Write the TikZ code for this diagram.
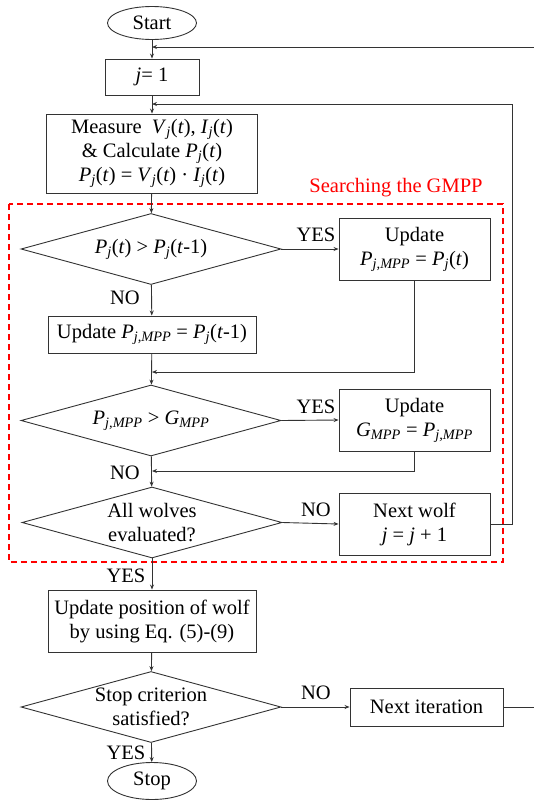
\documentclass[tikz,border=0pt]{standalone}
\usepackage{fontspec}
\setmainfont{Liberation Serif}
\usetikzlibrary{shapes.geometric,arrows.meta}
\newcommand{\lowi}[1]{\textsubscript{\textit{#1}}}
\newcommand{\tp}{(\textit{t})}
\newcommand{\Pj}{\textit{P}\lowi{j}}
\newcommand{\Vj}{\textit{V}\lowi{j}}
\newcommand{\Ij}{\textit{I}\lowi{j}}
\newcommand{\PjM}{\textit{P}\lowi{j,MPP}}
\newcommand{\GM}{\textit{G}\lowi{MPP}}

\tikzset{
  flow/.style={draw=black!80, line width=0.9pt, -{Stealth[length=5pt,width=4pt]}},
  box/.style={draw=black!80, line width=0.9pt, rectangle, align=center, inner sep=1pt},
  term/.style={draw=black!80, line width=0.9pt, ellipse, minimum width=89pt, minimum height=33pt, inner sep=0pt},
  decision/.style={draw=black!80, line width=0.9pt, diamond, aspect=3.7, inner sep=0pt, align=center,
                   minimum width=260pt, minimum height=71pt},
  lbl/.style={inner sep=0pt}
}

\begin{document}
\begin{tikzpicture}[x=1pt, y=-1pt, font=\fontsize{20.5}{24}\selectfont]
  \useasboundingbox (0,0) rectangle (534,801);

  % main column
  \node[term] (start) at (152,23) {Start};
  \node[box, minimum width=94pt, minimum height=36pt] (jone) at (152,77) {\textit{j}= 1};
  \node[box, minimum width=211pt, minimum height=79pt] (meas) at (152,153.5)
       {Measure \ \Vj\tp, \Ij\tp\\ \& Calculate \Pj\tp\\ \Pj\tp\ = \Vj\tp\ · \Ij\tp};
  \node[decision] (dpow) at (151,249) {\Pj\tp\ > \Pj(\textit{t}-1)};
  \node[box, minimum width=208pt, minimum height=37pt] (upold) at (152,334.5)
       {Update \PjM\ = \Pj(\textit{t}-1)};
  \node[decision] (dglob) at (151,420.5) {\PjM\ > \GM};
  \node[decision] (dall) at (152,522.5) {All wolves\\ evaluated?};
  \node[box, minimum width=208pt, minimum height=62pt] (upos) at (152,621)
       {Update position of wolf\\ by using Eq. (5)-(9)};
  \node[decision] (dstop) at (151,707) {Stop criterion\\ satisfied?};
  \node[term, minimum height=37pt] (stop) at (152,781) {Stop};

  % right column
  \node[box, minimum width=151pt, minimum height=62pt] (upnew) at (414.5,249)
       {Update\\ \PjM\ = \Pj\tp};
  \node[box, minimum width=151pt, minimum height=62pt] (upglob) at (414.5,420)
       {Update\\ \GM\ = \PjM};
  \node[box, minimum width=151pt, minimum height=62pt] (nwolf) at (414.5,524)
       {Next wolf\\ \textit{j} = \textit{j} + 1};
  \node[box, minimum width=153pt, minimum height=38pt] (nit) at (426.5,707) {Next iteration};

  % joints
  \coordinate (jtop) at (152,47);
  \coordinate (jmid) at (152,104);
  \coordinate (jone2) at (152,372);
  \coordinate (jtwo) at (152,471);

  % search area
  \draw[red, line width=1.3pt, dash pattern=on 6pt off 4pt] (9,204) rectangle (503,562);
  \node[lbl, red] (title) at (396,188) {Searching the GMPP};

  % connectors
  \draw[flow] (start) -- (jone);
  \draw[flow] (jone) -- (meas);
  \draw[flow] (meas) -- (dpow);
  \draw[flow] (dpow) -- (upold);
  \draw[flow] (upold) -- (dglob);
  \draw[flow] (dglob) -- (dall);
  \draw[flow] (dall) -- (upos);
  \draw[flow] (upos) -- (dstop);
  \draw[flow] (dstop) -- (stop);
  \draw[flow] (dpow.east) -- (upnew.west);
  \draw[flow] (dglob.east) -- (upglob.west);
  \draw[flow] (dall.east) -- (nwolf.west);
  \draw[flow] (dstop.east) -- (nit.west);
  \draw[flow] (upnew.south) |- (jone2);
  \draw[flow] (upglob.south) |- (jtwo);
  \draw[flow] (nwolf.east) -- (512,524) |- (jmid);
  \draw[flow] (nit.east) -- (545,707) |- (jtop);

  % branch labels
  \node[lbl] (yes1) at (316,235) {YES};
  \node[lbl] (no1) at (125,298) {NO};
  \node[lbl] (yes2) at (316,407) {YES};
  \node[lbl] (no2) at (125,473) {NO};
  \node[lbl] (no3) at (316,510) {NO};
  \node[lbl] (yes3) at (126,576) {YES};
  \node[lbl] (no4) at (316,693) {NO};
  \node[lbl] (yes4) at (126,753) {YES};
\end{tikzpicture}
\end{document}
